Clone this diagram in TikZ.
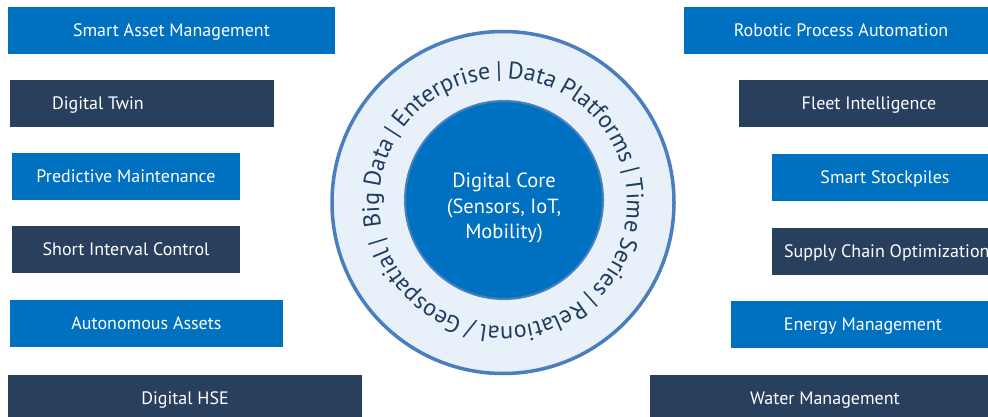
\documentclass[tikz,border=0pt]{standalone}
\usepackage{fontspec}
\setmainfont{PT Sans}
\usetikzlibrary{positioning,decorations.text}
\definecolor{boxblue}{HTML}{0070C0}
\definecolor{boxnavy}{HTML}{283F5E}
\definecolor{ringfill}{HTML}{E8F1FA}
\definecolor{ringline}{HTML}{4A7EBD}
\definecolor{ringtext}{HTML}{1F3B5E}
\newcommand\ringfont{\fontsize{24}{30}\selectfont\fontdimen2\font=3pt}

\begin{document}
\begin{tikzpicture}[x=1pt,y=1pt,
		boxtext/.style={text=white, inner sep=0pt, font=\fontsize{18}{20}\selectfont, text height=12.6pt, text depth=0pt},
		bluebox/.style={boxtext, fill=boxblue, minimum height=47pt},
		navybox/.style={bluebox, fill=boxnavy},
		coretext/.style={text=white, align=center, font=\fontsize{20.5}{25.5}\selectfont}]
		  \useasboundingbox (0,0) rectangle (988,416);
		  % left column
		  \node[bluebox, minimum width=327pt] (sam) at (171.5,385.5) {Smart Asset Management};
		  \node[navybox, minimum width=264pt] (twin) at (142,312.5) {};
		  \node[boxtext, right=42pt of twin.west] (twintext) {Digital Twin};
		  \node[bluebox, minimum width=228pt] (pdm) at (126,239.5) {Predictive Maintenance};
		  \node[navybox, minimum width=228pt] (sic) at (126,166.5) {Short Interval Control};
		  \node[bluebox, minimum width=273pt] (auto) at (146.5,92.5) {Autonomous Assets};
		  \node[navybox, minimum width=354pt] (hse) at (185,17.5) {Digital HSE};
		  % right column
		  \node[bluebox, minimum width=314pt] (rpa) at (841,385.5) {Robotic Process Automation};
		  \node[navybox, minimum width=260pt] (fleet) at (869,312.5) {Fleet Intelligence};
		  \node[bluebox, minimum width=226pt] (stock) at (885,238.5) {Smart Stockpiles};
		  \node[navybox, minimum width=238pt] (scm) at (891,165) {};
		  \node[boxtext, right=12pt of scm.west] (scmtext) {Supply Chain Optimization};
		  \node[bluebox, minimum width=264pt] (energy) at (863,91.5) {Energy Management};
		  \node[navybox, minimum width=350pt] (water) at (825,17.5) {Water Management};
		  % core and ring
		  \node[circle, draw=ringline, line width=3.5pt, fill=ringfill, minimum size=342pt] (ring) at (503,213.5) {};
		  \path[decorate, decoration={text along path, text format delimiters={[}{]},
		  	text={[\ringfont]Big Data | Enterprise | Data Platforms | Time Series | Relational / Geospatial |},
		  	text align=fit to path stretching spaces, text color=ringtext}]
		  	(ring.center) ++(191:124) arc[start angle=191, end angle=-164, radius=124];
		  \node[circle, draw=ringline, line width=2pt, fill=boxblue, minimum size=198pt] (core) at (504,216) {};
		  \node[coretext] (coretxt) at ([yshift=-8pt]core.center) {Digital Core\\(Sensors, IoT,\\Mobility)};
		\end{tikzpicture}
\end{document}
